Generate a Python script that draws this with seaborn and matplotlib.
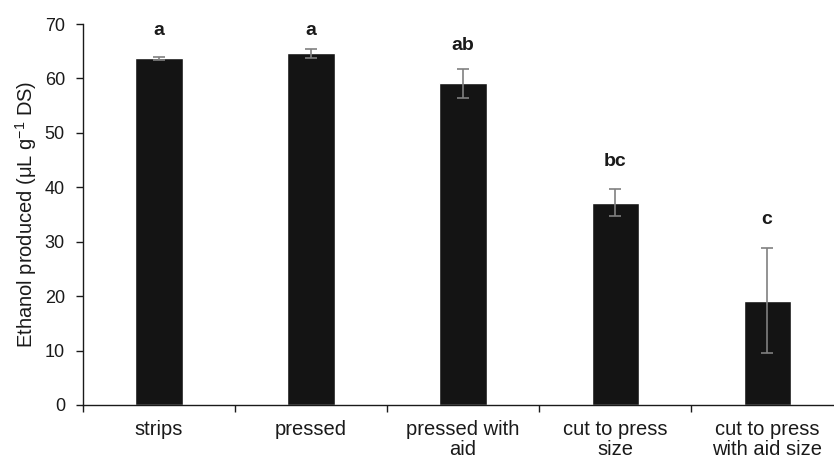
import seaborn as sns
import matplotlib.pyplot as plt
import pandas as pd
from matplotlib.ticker import FixedLocator

categories = ['strips', 'pressed', 'pressed with\naid', 'cut to press\nsize', 'cut to press\nwith aid size']
ethanol = [63.7, 64.6, 59.1, 37.2, 19.2]
err = [0.3, 0.8, 2.7, 2.5, 9.6]
letters = ['a', 'a', 'ab', 'bc', 'c']
letter_y = [68.9, 68.9, 66.0, 44.8, 34.0]

sns.set_style('white')
plt.rcParams['font.family'] = ['Liberation Sans', 'DejaVu Sans']
plt.rcParams['mathtext.fontset'] = 'custom'
plt.rcParams['mathtext.rm'] = 'Liberation Sans'
plt.rcParams['mathtext.it'] = 'Liberation Sans'

df = pd.DataFrame({'treatment': categories, 'ethanol': ethanol})

fig = plt.figure(figsize=(8.34, 4.63), dpi=100)
ax = fig.add_axes([0.0995, 0.1253, 0.9005, 0.8227])
sns.barplot(data=df, x='treatment', y='ethanol', color='#141414', width=0.31,
            saturation=1, errorbar=None, ax=ax)
ax.errorbar(range(len(categories)), ethanol, yerr=err, fmt='none',
            ecolor='#808080', elinewidth=1.2, capsize=4, capthick=1.2)
for i, (t, y) in enumerate(zip(letters, letter_y)):
    ax.text(i, y, t, ha='center', va='center', fontsize=14, fontweight='bold', color='#1a1a1a')

ax.set_xlim(-0.5, 4.44)
ax.set_ylim(0, 70)
ax.set_yticks(range(0, 71, 10))
ax.set_ylabel(r'Ethanol produced (μL g$^{-1}$ DS)', fontsize=14.5, color='#1a1a1a', labelpad=4)
ax.set_xlabel('')
ax.xaxis.set_minor_locator(FixedLocator([-0.5, 0.5, 1.5, 2.5, 3.5, 4.5]))
ax.tick_params(axis='x', which='major', length=0, pad=11, labelsize=14.5, colors='#1a1a1a')
ax.tick_params(axis='x', which='minor', length=5, width=1, direction='out', bottom=True, color='#1a1a1a')
ax.tick_params(axis='y', length=5, width=1, direction='out', left=True, pad=8, labelsize=13, colors='#1a1a1a')
for lbl in ax.get_xticklabels():
    lbl.set_linespacing(1.05)
for s in ['top', 'right']:
    ax.spines[s].set_visible(False)
for s in ['left', 'bottom']:
    ax.spines[s].set_color('#1a1a1a')
    ax.spines[s].set_linewidth(1)

plt.savefig('out.png', dpi=100)
